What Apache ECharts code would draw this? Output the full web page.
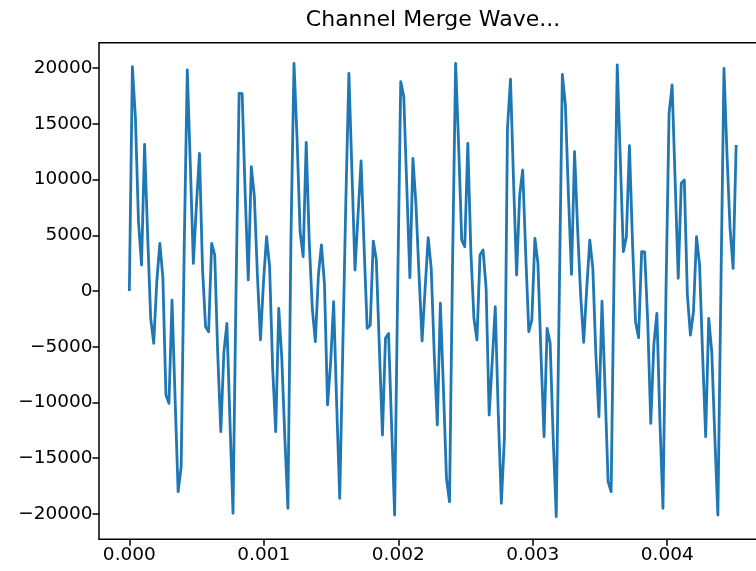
<!DOCTYPE html>
<html>
<head>
<meta charset="utf-8">
<script src="https://cdn.jsdelivr.net/npm/echarts@6/dist/echarts.min.js"></script>
<style>
  html, body { margin: 0; padding: 0; background: #fff; }
  #chart { width: 756px; height: 571px; }
</style>
</head>
<body>
<div id="chart"></div>
<script>
// samples of the merged channel, one every 1/44100 s
var SAMPLE_RATE = 44100;
var waveValues = [
  0, 20120, 15490, 6220, 2330, 13150, 5020, -2450, -4690, 840,
  4270, 1200, -9330, -10080, -810, -9630, -18000, -15750, 4000, 19820,
  11300, 2480, 7710, 12350, 2000, -3200, -3650, 4270, 3230, -5740,
  -12620, -5500, -2900, -11720, -19940, 240, 17730, 17700, 8610, 990,
  11150, 8460, 1430, -4390, 840, 4870, 2180, -6940, -12620, -1550,
  -6040, -13210, -19490, 4720, 20420, 13690, 5320, 3080, 13330, 4430,
  -1550, -4540, 1430, 4130, 540, -10220, -6500, -960, -10220, -18600,
  -5140, 8100, 19520, 10700, 1880, 6820, 11660, 3830, -3350, -3080,
  4480, 2780, -5140, -12920, -4240, -3800, -12020, -20090, 240, 18780,
  17430, 9210, 1200, 11900, 7710, 1490, -4480, 240, 4780, 2030,
  -5740, -12020, -1100, -8730, -16800, -18900, 2630, 20420, 12980, 4570,
  3980, 13240, 3530, -2450, -4390, 3230, 3680, 240, -11120, -6340,
  -1410, -11120, -19040, -13210, 14590, 19010, 9800, 1430, 8610, 10850,
  3230, -3650, -2600, 4720, 2480, -5740, -13060, -3350, -4690, -13210,
  -20240, -360, 19430, 16680, 8610, 1490, 12500, 5620, -360, -4600,
  240, 4570, 2030, -5740, -11270, -900, -8730, -17100, -18000, 2630,
  20270, 11900, 3530, 4870, 13030, 4420, -2750, -4190, 3530, 3500,
  -2750, -11870, -4840, -2000, -11720, -19490, 120, 15930, 18480, 9800,
  1140, 9660, 9960, -360, -3950, -1850, 4870, 2330, -5740, -13070,
  -2450, -5440, -13070, -20090, 240, 19970, 12200, 5620, 2030, 13090
];
var xTicks = [0, 0.001, 0.002, 0.003, 0.004];
var yTicks = [-20000, -15000, -10000, -5000, 0, 5000, 10000, 15000, 20000];

var seriesData = waveValues.map(function (v, i) { return [i / SAMPLE_RATE, v]; });

var chart = echarts.init(document.getElementById('chart'), null, { renderer: 'canvas' });

var font = 'DejaVu Sans';
var tickStyle = { color: '#000', width: 1.5 };

chart.setOption({
  animation: false,
  backgroundColor: '#fff',
  graphic: [{
    type: 'text',
    x: 433,
    y: 9,
    style: {
      text: 'Channel Merge Wave...',
      font: '22px "DejaVu Sans"',
      fill: '#000',
      align: 'center'
    }
  }],
  // the plot frame runs past the right edge of the picture, as in the original crop
  grid: {
    left: 99,
    width: 667.5,
    top: 42.7,
    bottom: 31.7,
    outerBoundsMode: 'none',
    containLabel: false,
    show: true,
    borderColor: '#000',
    borderWidth: 1.5,
    backgroundColor: 'transparent'
  },
  xAxis: {
    type: 'value',
    min: -0.0002256,
    max: 0.0047381,
    axisLine: { show: false, onZero: false },
    splitLine: { show: false },
    axisTick: { show: true, length: 6.5, lineStyle: tickStyle, customValues: xTicks },
    axisLabel: {
      customValues: xTicks,
      margin: 6.5,
      color: '#000',
      fontSize: 18.5,
      fontFamily: font,
      formatter: function (v) { return v.toFixed(3); }
    }
  },
  yAxis: {
    type: 'value',
    min: -22270,
    max: 22270,
    axisLine: { show: false, onZero: false },
    splitLine: { show: false },
    axisTick: { show: true, length: 6.5, lineStyle: tickStyle, customValues: yTicks },
    axisLabel: {
      customValues: yTicks,
      margin: 6.5,
      color: '#000',
      fontSize: 18.5,
      fontFamily: font,
      formatter: function (v) { return v < 0 ? '\u2212' + Math.abs(v) : String(v); }
    }
  },
  series: [{
    type: 'line',
    data: seriesData,
    showSymbol: false,
    lineStyle: { color: '#1f77b4', width: 2.8, join: 'round' }
  }]
});
</script>
</body>
</html>
